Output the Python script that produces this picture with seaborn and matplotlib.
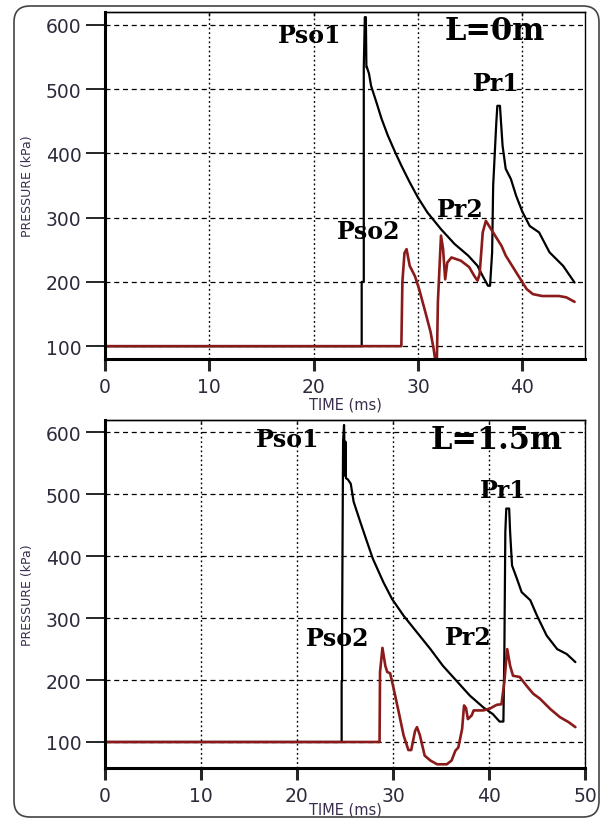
import matplotlib
matplotlib.use("Agg")
import matplotlib.pyplot as plt
from matplotlib.patches import FancyBboxPatch
from matplotlib.transforms import IdentityTransform
import seaborn as sns

# ---- L = 0 m ----
l0_black_time = [0, 24.6, 24.6, 24.8, 24.8, 24.9, 25.0, 25.05, 25.1, 25.3, 25.5, 26.0, 26.5,
                 27.1, 27.8, 28.4, 29.2, 30.0, 30.9, 32.2, 33.5, 34.8, 35.7, 36.2, 36.7,
                 36.9, 37.1, 37.2, 37.5, 37.6, 37.85, 37.95, 38.1, 38.4, 38.9, 39.4, 40.0,
                 40.7, 41.6, 42.6, 43.9, 45.0]
l0_black_kpa = [100, 100, 200, 200, 534, 612, 612, 534, 534, 524, 505, 480, 454,
                428, 402, 381, 355, 331, 308, 282, 259, 241, 225, 209, 194,
                194, 246, 350, 448, 474, 474, 449, 412, 376, 360, 334, 309,
                287, 277, 246, 225, 199]

l0_red_time = [0, 28.4, 28.5, 28.7, 28.9, 29.2, 29.7, 30.1, 30.7, 31.2, 31.5, 31.7, 31.8,
               31.9, 32.2, 32.4, 32.6, 32.8, 33.2, 34.1, 34.9, 35.4, 35.7, 35.9, 36.2,
               36.5, 37.0, 38.0, 38.4, 39.4, 40.4, 41.0, 41.9, 43.5, 44.2, 45.0]
l0_red_kpa = [100, 100, 200, 245, 251, 225, 209, 189, 153, 122, 95, 72, 72,
              168, 272, 251, 204, 230, 238, 233, 223, 209, 202, 212, 277,
              295, 282, 256, 241, 215, 189, 181, 178, 178, 176, 169]

# ---- L = 1.5 m ----
l15_black_time = [0, 24.65, 24.65, 24.7, 24.7, 24.8, 24.9, 25.0, 25.05, 25.1, 25.3, 25.6,
                  25.9, 26.6, 27.3, 27.9, 29.0, 29.9, 31.1, 32.5, 33.9, 35.2, 36.6, 38.0,
                  39.4, 40.4, 41.1, 41.5, 41.6, 41.7, 41.8, 42.1, 42.2, 42.4, 42.9, 43.4,
                  44.3, 45.0, 46.0, 47.1, 48.1, 49.0]
l15_black_kpa = [100, 100, 199, 199, 291, 585, 612, 530, 585, 526, 524, 517,
                 488, 455, 423, 396, 358, 331, 304, 277, 250, 223, 199, 175,
                 156, 145, 133, 133, 245, 439, 477, 477, 439, 385, 364, 342,
                 329, 304, 272, 250, 242, 229]

l15_red_time = [0, 28.6, 28.65, 28.9, 29.2, 29.4, 29.7, 30.0, 30.6, 31.1, 31.6, 31.9, 32.3,
                32.5, 32.8, 33.3, 33.9, 34.6, 35.6, 36.1, 36.5, 36.8, 37.2, 37.4, 37.6,
                37.8, 38.2, 38.4, 39.4, 40.1, 40.8, 41.3, 41.6, 41.8, 41.9, 42.2, 42.5,
                43.2, 43.9, 44.6, 45.3, 46.4, 47.4, 48.3, 49.0]
l15_red_kpa = [100, 100, 213, 252, 223, 213, 211, 191, 148, 111, 87, 87, 118,
               124, 111, 78, 70, 64, 64, 70, 86, 91, 121, 159, 155,
               137, 143, 151, 151, 154, 160, 161, 197, 234, 250, 223, 207,
               205, 191, 178, 170, 153, 140, 132, 124]

y_ticks = [100, 200, 300, 400, 500, 600]
x_ticks_top = [0, 10, 20, 30, 40]
x_ticks_bottom = [0, 10, 20, 30, 40, 50]

# peak labels: (text, time, kPa)
labels_l0 = [("Pso1", 19.6, 574), ("Pso2", 25.3, 268), ("Pr1", 37.5, 498), ("Pr2", 34.0, 303)]
labels_l15 = [("Pso1", 19.0, 578), ("Pso2", 24.2, 257), ("Pr1", 41.5, 496), ("Pr2", 37.8, 259)]
case_l0 = ("L=0m", 37.4, 578)
case_l15 = ("L=1.5m", 40.8, 574)

sns.set_theme(style="white")
plt.rcParams["font.family"] = ["DejaVu Sans"]

BLACK = "#000000"
RED = "#8b1a1a"
TICK_COLOR = "#2b2b3b"
LABEL_COLOR = "#3a2d4d"
SERIF = ["DejaVu Serif"]

fig = plt.figure(figsize=(6.03, 8.2), dpi=100)
fig.patch.set_facecolor("white")
ax1 = fig.add_axes([105 / 603, (820 - 360) / 820, 480 / 603, 347 / 820])
ax2 = fig.add_axes([105 / 603, (820 - 769) / 820, 480 / 603, 348 / 820])


def draw_panel(ax, bt, bk, rt, rk, xmax, ylo, xticks, peaks, case, xlabel_y):
    sns.lineplot(x=bt, y=bk, ax=ax, estimator=None, sort=False, color=BLACK, lw=1.6)
    sns.lineplot(x=rt, y=rk, ax=ax, estimator=None, sort=False, color=RED, lw=1.9)
    ax.set_xlim(0, xmax)
    ax.set_ylim(ylo, 620)
    ax.set_xticks(xticks)
    ax.set_yticks(y_ticks)
    ax.set_facecolor("white")

    ax.yaxis.grid(True, linestyle=(0, (4, 3)), color="black", lw=0.9)
    ax.xaxis.grid(True, linestyle=(0, (1.3, 2)), color="black", lw=1.0)
    ax.set_axisbelow(True)

    for side in ("left", "bottom"):
        ax.spines[side].set_linewidth(2.2)
        ax.spines[side].set_color("black")
    for side in ("top", "right"):
        ax.spines[side].set_linewidth(1.0)
        ax.spines[side].set_color("black")

    ax.tick_params(axis="y", direction="out", length=13.5, width=1.4, pad=3.5,
                   labelsize=13.5, labelcolor=TICK_COLOR, left=True)
    ax.tick_params(axis="x", direction="out", length=8.8, width=2.2, pad=4.5,
                   labelsize=13.5, labelcolor=TICK_COLOR, bottom=True)

    top = ax.secondary_xaxis("top")
    top.set_xticks(xticks)
    top.tick_params(direction="in", length=3, width=1.0, labeltop=False)
    top.spines["top"].set_linewidth(1.0)

    ax.set_ylabel("PRESSURE (kPa)", fontsize=9, color=LABEL_COLOR)
    ax.yaxis.label.set_va("center")
    ax.yaxis.set_label_coords(-0.162, 0.5)
    ax.set_xlabel("TIME (ms)", fontsize=10.5, color=LABEL_COLOR)
    ax.xaxis.label.set_va("center")
    ax.xaxis.set_label_coords(0.5, xlabel_y)

    for text, tx, ty in peaks:
        ax.text(tx, ty, text, ha="center", va="baseline", family=SERIF,
                fontweight="bold", fontsize=17, color="black")
    ctext, cx, cy = case
    ax.text(cx, cy, ctext, ha="center", va="baseline", family=SERIF,
            fontweight="bold", fontsize=22, color="black")


draw_panel(ax1, l0_black_time, l0_black_kpa, l0_red_time, l0_red_kpa,
           46, 80, x_ticks_top, labels_l0, case_l0, -0.130)
draw_panel(ax2, l15_black_time, l15_black_kpa, l15_red_time, l15_red_kpa,
           50, 58, x_ticks_bottom, labels_l15, case_l15, -0.118)

frame = FancyBboxPatch((14, 2), 585, 811, boxstyle="round,pad=0,rounding_size=16",
                       transform=IdentityTransform(), fill=False,
                       edgecolor="#444444", lw=1.2)
fig.add_artist(frame)

fig.savefig("out.png", dpi=100)
